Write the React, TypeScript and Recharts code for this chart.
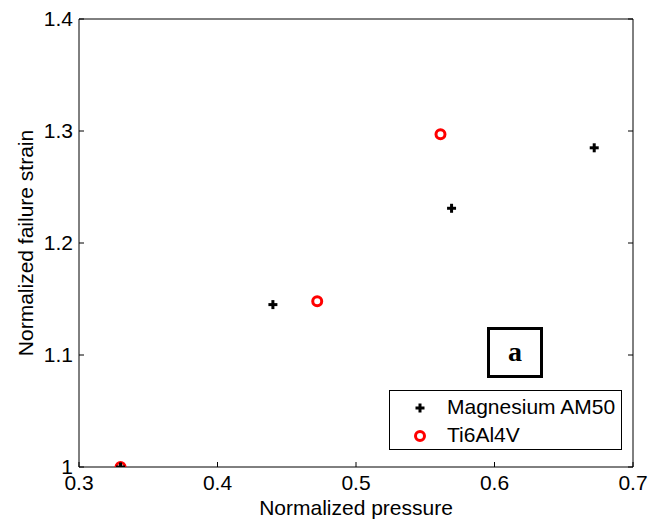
import React from 'react';
import { ScatterChart, Scatter, XAxis, YAxis, Legend } from 'recharts';

const xTicks = [0.3, 0.4, 0.5, 0.6, 0.7];
const yTicks = [1, 1.1, 1.2, 1.3, 1.4];

const magPressure = [0.33, 0.44, 0.569, 0.672];
const magStrain = [1.0, 1.145, 1.231, 1.285];
const tiPressure = [0.33, 0.472, 0.561];
const tiStrain = [1.0, 1.148, 1.297];

const magData = magPressure.map((x, i) => ({ x, y: magStrain[i] }));
const tiData = tiPressure.map((x, i) => ({ x, y: tiStrain[i] }));

const FONT = '"Liberation Sans", Arial, Helvetica, sans-serif';
const FS = 21;

const PlusShape = (props: any) => {
  const { cx, cy } = props;
  if (cx == null || cy == null) return null;
  return (
    <g>
      <line x1={cx - 4.5} y1={cy} x2={cx + 4.5} y2={cy} stroke="#000" strokeWidth={3} />
      <line x1={cx} y1={cy - 4.5} x2={cx} y2={cy + 4.5} stroke="#000" strokeWidth={3} />
    </g>
  );
};

const CircleShape = (props: any) => {
  const { cx, cy } = props;
  if (cx == null || cy == null) return null;
  return <circle cx={cx} cy={cy} r={4.5} fill="none" stroke="#ff0000" strokeWidth={3} />;
};

const BottomTick = (props: any) => {
  const { x, y, payload } = props;
  return (
    <g>
      <line x1={x} y1={y} x2={x} y2={y - 5} stroke="#000" strokeWidth={1} />
      <text x={x} y={y + 23} textAnchor="middle" fontFamily={FONT} fontSize={FS} fill="#000">
        {String(payload.value)}
      </text>
    </g>
  );
};

const LeftTick = (props: any) => {
  const { x, y, payload } = props;
  return (
    <g>
      <line x1={x} y1={y} x2={x + 5} y2={y} stroke="#000" strokeWidth={1} />
      <text x={x - 6} y={y + 7} textAnchor="end" fontFamily={FONT} fontSize={FS} fill="#000">
        {String(payload.value)}
      </text>
    </g>
  );
};

const TopTick = (props: any) => {
  const { x, y } = props;
  return <line x1={x} y1={y} x2={x} y2={y + 5} stroke="#000" strokeWidth={1} />;
};

const RightTick = (props: any) => {
  const { x, y } = props;
  return <line x1={x} y1={y} x2={x - 5} y2={y} stroke="#000" strokeWidth={1} />;
};

const XLabel = (props: any) => {
  const vb = props.viewBox || {};
  const cx = vb.x + vb.width / 2;
  return (
    <text x={cx} y={vb.y + 48} textAnchor="middle" fontFamily={FONT} fontSize={FS} fill="#000">
      Normalized pressure
    </text>
  );
};

const YLabel = (props: any) => {
  const vb = props.viewBox || {};
  const x = vb.x + 33;
  const y = vb.y + vb.height / 2;
  return (
    <text x={x} y={y} transform={`rotate(-90 ${x} ${y})`} textAnchor="middle" fontFamily={FONT} fontSize={FS} fill="#000">
      Normalized failure strain
    </text>
  );
};

const LegendBox = () => (
  <div
    style={{
      width: 233,
      height: 60,
      boxSizing: 'border-box',
      border: '1px solid #000',
      background: '#fff',
      fontFamily: FONT,
      fontSize: FS,
      color: '#000',
      position: 'relative',
    }}
  >
    <svg width={40} height={58} style={{ position: 'absolute', left: 10, top: 0 }}>
      <line x1={15.5} y1={17} x2={24.5} y2={17} stroke="#000" strokeWidth={3} />
      <line x1={20} y1={12.5} x2={20} y2={21.5} stroke="#000" strokeWidth={3} />
      <circle cx={20} cy={45} r={4.5} fill="none" stroke="#ff0000" strokeWidth={3} />
    </svg>
    <div style={{ position: 'absolute', left: 57, top: 4, lineHeight: '24px', whiteSpace: 'nowrap' }}>Magnesium AM50</div>
    <div style={{ position: 'absolute', left: 57, top: 32, lineHeight: '24px', whiteSpace: 'nowrap' }}>Ti6Al4V</div>
  </div>
);

export default function App() {
  return (
    <div style={{ position: 'absolute', left: 0, top: 0, width: 657, height: 520, background: '#fff' }}>
      <ScatterChart width={657} height={520} margin={{ top: 18, right: 23, bottom: 0, left: 0 }}>
        <XAxis
          xAxisId="b"
          type="number"
          dataKey="x"
          domain={[0.3, 0.7]}
          ticks={xTicks}
          interval={0}
          height={53}
          tickSize={0}
          tickMargin={0}
          tickLine={false}
          axisLine={{ stroke: '#000', strokeWidth: 1 }}
          tick={<BottomTick />}
          label={<XLabel />}
          allowDataOverflow
        />
        <XAxis
          xAxisId="t"
          orientation="top"
          type="number"
          domain={[0.3, 0.7]}
          ticks={xTicks}
          interval={0}
          height={1}
          tickSize={0}
          tickMargin={0}
          tickLine={false}
          axisLine={{ stroke: '#000', strokeWidth: 1 }}
          tick={<TopTick />}
          allowDataOverflow
        />
        <YAxis
          yAxisId="l"
          type="number"
          dataKey="y"
          domain={[1, 1.4]}
          ticks={yTicks}
          interval={0}
          width={79}
          tickSize={0}
          tickMargin={0}
          tickLine={false}
          axisLine={{ stroke: '#000', strokeWidth: 1 }}
          tick={<LeftTick />}
          label={<YLabel />}
          allowDataOverflow
        />
        <YAxis
          yAxisId="r"
          orientation="right"
          type="number"
          domain={[1, 1.4]}
          ticks={yTicks}
          interval={0}
          width={1}
          tickSize={0}
          tickMargin={0}
          tickLine={false}
          axisLine={{ stroke: '#000', strokeWidth: 1 }}
          tick={<RightTick />}
          allowDataOverflow
        />
        <Scatter
          name="Ti6Al4V"
          data={tiData}
          xAxisId="b"
          yAxisId="l"
          shape={<CircleShape />}
          isAnimationActive={false}
        />
        <Scatter
          name="Magnesium AM50"
          data={magData}
          xAxisId="b"
          yAxisId="l"
          shape={<PlusShape />}
          isAnimationActive={false}
        />
        <Legend
          layout="vertical"
          align="center"
          verticalAlign="middle"
          content={<LegendBox />}
          wrapperStyle={{ left: 389, top: 390, width: 233, height: 60 }}
        />
      </ScatterChart>
      <div
        style={{
          position: 'absolute',
          left: 487,
          top: 327,
          width: 56,
          height: 51,
          boxSizing: 'border-box',
          border: '3px solid #000',
          background: '#fff',
          fontFamily: '"Liberation Serif", "Times New Roman", serif',
          fontWeight: 'bold',
          fontSize: 28,
          color: '#000',
          display: 'flex',
          alignItems: 'center',
          justifyContent: 'center',
          lineHeight: 1,
        }}
      >
        <span style={{ position: 'relative', top: -1 }}>a</span>
      </div>
    </div>
  );
}
